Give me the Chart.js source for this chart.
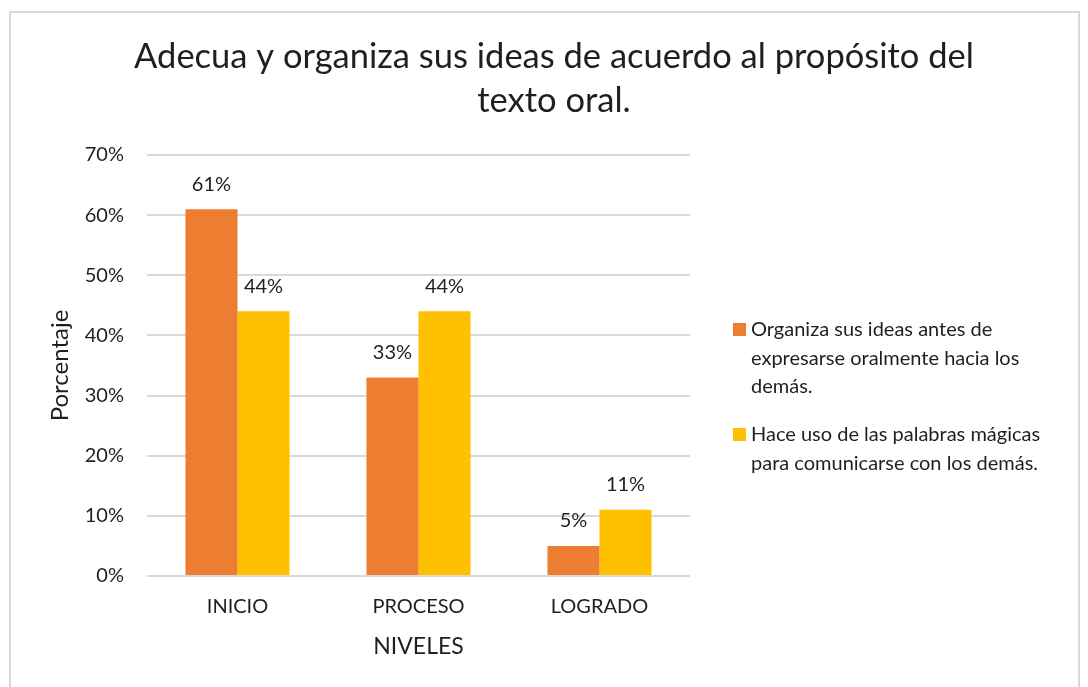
<!DOCTYPE html>
<html>
<head>
<meta charset="utf-8">
<script src="https://cdn.jsdelivr.net/npm/chart.js@4.4.0/dist/chart.umd.min.js"></script>
<style>
    html, body { margin: 0; padding: 0; background: #fff; }
    #wrap { position: relative; width: 1088px; height: 687px; overflow: hidden; }
    #marco { position: absolute; left: 9px; top: 11px; width: 1067px; height: 700px; border: 2px solid #d9d9d9; pointer-events: none; }
    canvas { position: absolute; left: 0; top: 0; }
</style>
</head>
<body>
<div id="wrap">
    <canvas id="grafico" width="1088" height="687"></canvas>
    <div id="marco"></div>
</div>
<script>
// ==================================================
// DATOS DEL GRÁFICO
// ==================================================
const tituloLineas = ['Adecua y organiza sus ideas de acuerdo al propósito del', 'texto oral.'];
const niveles = ['INICIO', 'PROCESO', 'LOGRADO'];
const serieOrganiza = [61, 33, 5];
const serieHace = [44, 44, 11];
const nombresSeries = [
    'Organiza sus ideas antes de expresarse oralmente hacia los demás.',
    'Hace uso de las palabras mágicas para comunicarse con los demás.'
];
const leyendaLineas = [
    ['Organiza sus ideas antes de', 'expresarse oralmente hacia los', 'demás.'],
    ['Hace uso de las palabras mágicas', 'para comunicarse con los demás.']
];
const ticksY = [0, 10, 20, 30, 40, 50, 60, 70];

const FUENTE = 'Lato, "Open Sans", sans-serif';
const COLOR_TEXTO = '#1f1f1f';
const colores = ['#ED7D31', '#FFC000'];

// Título centrado (dibujado a mano para que no dependa del área del gráfico)
const pluginTitulo = {
    id: 'tituloPropio',
    afterDraw(chart) {
        const ctx = chart.ctx;
        ctx.save();
        ctx.font = '34.5px ' + FUENTE;
        ctx.fillStyle = COLOR_TEXTO;
        ctx.textAlign = 'center';
        ctx.textBaseline = 'middle';
        tituloLineas.forEach((linea, i) => ctx.fillText(linea, 554, 57 + i * 44));
        ctx.restore();
    }
};

// Etiquetas de valor encima de cada barra
const pluginEtiquetas = {
    id: 'etiquetasValor',
    afterDatasetsDraw(chart) {
        const ctx = chart.ctx;
        ctx.save();
        ctx.font = '20px ' + FUENTE;
        ctx.fillStyle = COLOR_TEXTO;
        ctx.textAlign = 'center';
        ctx.textBaseline = 'middle';
        chart.data.datasets.forEach((ds, i) => {
            chart.getDatasetMeta(i).data.forEach((barra, j) => {
                ctx.fillText(ds.data[j] + '%', barra.x, barra.y - 25);
            });
        });
        ctx.restore();
    }
};

// Leyenda a la derecha con texto en varias líneas
const pluginLeyenda = {
    id: 'leyendaPropia',
    afterDraw(chart) {
        const ctx = chart.ctx;
        ctx.save();
        ctx.font = '20px ' + FUENTE;
        ctx.textAlign = 'left';
        ctx.textBaseline = 'middle';
        let y = 330;
        leyendaLineas.forEach((lineas, i) => {
            ctx.fillStyle = colores[i];
            ctx.fillRect(733, y - 7, 13, 13);
            ctx.fillStyle = COLOR_TEXTO;
            lineas.forEach((linea, k) => ctx.fillText(linea, 751, y + k * 28.5));
            y += lineas.length * 28.5 + 19.5;
        });
        ctx.restore();
    }
};

const ctx = document.getElementById('grafico').getContext('2d');

new Chart(ctx, {
    type: 'bar',
    data: {
        labels: niveles,
        datasets: [
            {
                label: nombresSeries[0],
                data: serieOrganiza,
                backgroundColor: colores[0],
                categoryPercentage: 0.575,
                barPercentage: 1
            },
            {
                label: nombresSeries[1],
                data: serieHace,
                backgroundColor: colores[1],
                categoryPercentage: 0.575,
                barPercentage: 1
            }
        ]
    },
    options: {
        responsive: false,
        animation: false,
        layout: {
            padding: { left: 20, top: 155, right: 398, bottom: 0 }
        },
        plugins: {
            legend: { display: false },
            title: { display: false },
            tooltip: { enabled: false }
        },
        scales: {
            x: {
                afterFit: function(scale) { scale.height = 111; },
                grid: { display: false, drawTicks: false },
                border: { display: false },
                ticks: {
                    color: COLOR_TEXTO,
                    font: { family: FUENTE, size: 20 },
                    padding: 19,
                    maxRotation: 0
                },
                title: {
                    display: true,
                    text: 'NIVELES',
                    color: COLOR_TEXTO,
                    font: { family: FUENTE, size: 23 },
                    padding: { top: 0, bottom: 27 }
                }
            },
            y: {
                min: 0,
                max: 70,
                afterFit: function(scale) { scale.width = 127; },
                afterBuildTicks: function(scale) {
                    scale.ticks = ticksY.map(v => ({ value: v }));
                },
                grid: { color: '#d9d9d9', lineWidth: 2, drawTicks: false },
                border: { display: false },
                ticks: {
                    color: COLOR_TEXTO,
                    font: { family: FUENTE, size: 20 },
                    padding: 23,
                    callback: function(value) { return value + '%'; }
                },
                title: {
                    display: true,
                    text: 'Porcentaje',
                    color: COLOR_TEXTO,
                    font: { family: FUENTE, size: 24 },
                    padding: { top: 26, bottom: 0 }
                }
            }
        }
    },
    plugins: [pluginTitulo, pluginEtiquetas, pluginLeyenda]
});
</script>
</body>
</html>
